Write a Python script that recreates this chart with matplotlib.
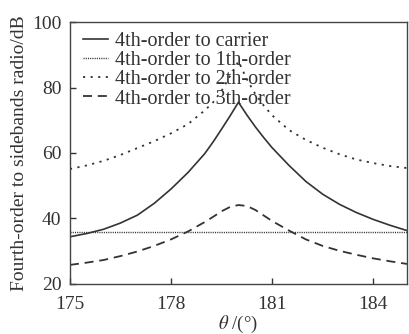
import matplotlib
matplotlib.use("Agg")
import matplotlib.pyplot as plt

plt.rcParams['font.family'] = ['Liberation Serif', 'DejaVu Serif']
plt.rcParams['mathtext.fontset'] = 'stix'

# Rotation angle theta (degrees)
theta = [175, 175.5, 176, 176.5, 177, 177.5, 178, 178.5, 179, 179.25, 179.5, 179.75,
         180, 180.25, 180.5, 180.75, 181, 181.5, 182, 182.5, 183, 183.5, 184, 184.5, 185]

# Fourth-order sideband ratios (dB)
to_carrier = [34.4, 35.4, 36.7, 38.6, 41.0, 44.6, 49.0, 54.0, 59.8, 63.4, 67.3, 71.3,
              75.5, 71.6, 68.0, 64.7, 61.6, 56.2, 51.3, 47.4, 44.3, 41.8, 39.7, 37.9, 36.3]
to_1th = [36.0] * len(theta)
to_2th = [55.1, 56.2, 57.6, 59.4, 61.5, 63.6, 66.0, 68.8, 73.0, 75.5, 79.0, 83.5,
          88.0, 82.5, 78.0, 74.5, 71.5, 67.0, 64.0, 61.6, 59.6, 58.0, 56.9, 56.0, 55.4]
to_3th = [25.8, 26.5, 27.3, 28.5, 29.9, 31.6, 33.6, 36.0, 38.9, 40.5, 42.2, 43.5,
          44.1, 43.8, 42.6, 40.9, 39.2, 36.3, 33.6, 31.6, 30.1, 28.9, 27.8, 26.9, 26.1]

labels = ["4th-order to carrier", "4th-order to 1th-order",
          "4th-order to 2th-order", "4th-order to 3th-order"]
xticks = [175, 178, 181, 184]
yticks = [20, 40, 60, 80, 100]

fig = plt.figure(figsize=(4.09, 3.34), dpi=100)
ax = fig.add_axes([0.171, 0.150, 0.824, 0.784])

c = '#333333'
ax.plot(theta, to_carrier, color=c, lw=1.2, ls='-', label=labels[0])
ax.plot(theta, to_1th, color=c, lw=1.0, ls=(0, (0.8, 0.8)), label=labels[1])
ax.plot(theta, to_2th, color=c, lw=1.3, ls=(0, (1.2, 3.0)), label=labels[2])
ax.plot(theta, to_3th, color=c, lw=1.3, ls=(0, (5, 3.2)), label=labels[3])

ax.set_xlim(175, 185)
ax.set_ylim(20, 100)
ax.set_xticks(xticks)
ax.set_yticks(yticks)
ax.tick_params(direction='in', length=4, width=1, labelsize=14, colors=c)
ax.tick_params(axis='x', pad=9)
ax.tick_params(axis='y', pad=6)
for s in ax.spines.values():
    s.set_color('#444444')
    s.set_linewidth(1.0)

ax.set_xlabel(r'$\theta$' + ' /(°)', fontsize=13.5, color=c, labelpad=0)
ax.set_ylabel('Fourth-order to sidebands radio/dB', fontsize=14, color=c, labelpad=3)

leg = ax.legend(loc='upper left', frameon=False, fontsize=14.5, handlelength=1.2,
                handletextpad=0.35, labelspacing=0.0, borderaxespad=0.1,
                bbox_to_anchor=(0.01, 1.0))
for t in leg.get_texts():
    t.set_color(c)

fig.savefig('out.png', dpi=100)
